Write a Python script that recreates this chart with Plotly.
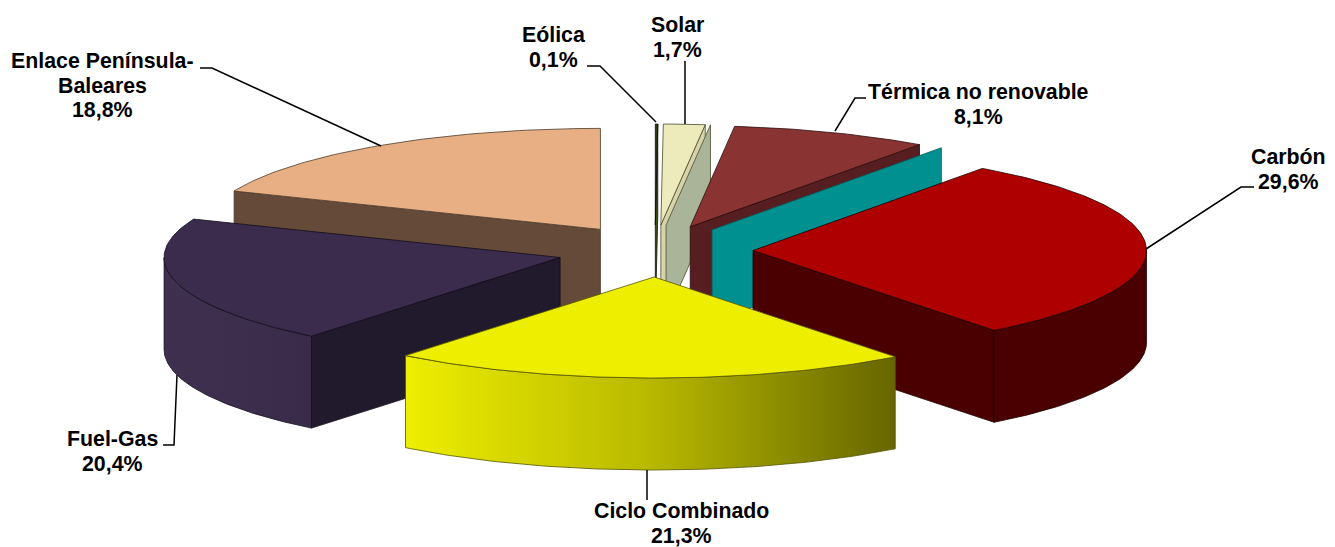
import numpy as np
import plotly.graph_objects as go

# ---- data ----
names = ["Eólica", "Solar", "", "Térmica no renovable", "", "Carbón",
         "Ciclo Combinado", "Fuel-Gas", "Enlace Península-<br>Baleares"]
values = [0.1, 1.7, 0.0, 8.1, 0.0, 29.6, 21.3, 20.4, 18.8]

# ---- styles ----
top_colors = ["#2E3A14", "#EDEBBB", "#AAB499", "#8A3333", "#009090", "#AF0000", "#EEEE00", "#3B2C4D", "#E8AF85"]
wall_colors = ["#3F4C1E", "#D6D4A8", "#AAB499", "#561E20", "#009090", "#4A0000", "#666600", "#211A2D", "#654A3A"]
edge_colors = ["#111111", "#4A4A30", "#4A4A30", "#2A0A0A", "#006060", "#200000", "#555500", "#120C1C", "#4A3A2A"]
curve_scales = {5: ["#4A0000", "#4A0000"], 6: ["#EEEE00", "#B8B800", "#666600"], 7: ["#3F3050", "#3A2B4B"]}
draw_order = [0, 1, 2, 3, 4, 8, 5, 7, 6]

# ---- pie geometry (screen px) ----
W, H = 1335, 547
CX, CY = 655, 251
RX_RIGHT, RX_LEFT, RY = 393.5, 396, 101
EX, EY = 98, 26
DEPTH = 92

fig = go.Figure()


def poly(xs, ys, color, edge, gradient=None):
    kw = dict(x=list(xs) + [xs[0]], y=list(ys) + [ys[0]], mode="lines", fill="toself",
              line=dict(color=edge, width=0.8), hoverinfo="skip", showlegend=False)
    if gradient:
        n = len(gradient) - 1
        kw["fillgradient"] = dict(type="horizontal",
                                  colorscale=[[k / n, c] for k, c in enumerate(gradient)])
    else:
        kw["fillcolor"] = color
    fig.add_trace(go.Scatter(**kw))


cum = np.cumsum([0] + values)
total = cum[-1]
for i in draw_order:
    a0, a1 = np.radians(cum[i] / total * 360), np.radians(cum[i + 1] / total * 360)
    mid = (a0 + a1) / 2
    ax, ay = CX + EX * np.sin(mid), CY - EY * np.cos(mid)

    def pt(a):
        s = np.sin(a)
        return ax + np.where(s < 0, RX_LEFT, RX_RIGHT) * s, ay - RY * np.cos(a)

    # radial walls that face the viewer
    for a, visible in ((a0, np.sin(a0) < 0), (a1, np.sin(a1) > 0)):
        if visible:
            x, y = pt(a)
            poly([ax, float(x), float(x), ax], [ay, float(y), float(y) + DEPTH, ay + DEPTH],
                 wall_colors[i], edge_colors[i])
    # outer curved wall (front half only)
    lo, hi = max(a0, np.pi / 2), min(a1, 3 * np.pi / 2)
    if hi > lo:
        t = np.linspace(lo, hi, 80)
        x, y = pt(t)
        xs = np.r_[x, x[::-1]]
        ys = np.r_[y, y[::-1] + DEPTH]
        poly(xs.tolist(), ys.tolist(), wall_colors[i], edge_colors[i], curve_scales.get(i))
    # top face
    if a1 > a0:
        t = np.linspace(a0, a1, max(3, int((a1 - a0) * 60)))
        x, y = pt(t)
        poly([ax] + x.tolist(), [ay] + y.tolist(), top_colors[i], edge_colors[i])

# ---- labels: (x centre, y of first line) ----
label_pos = {0: (553, 35), 1: (677, 25), 3: (978, 92), 5: (1288, 157), 6: (681, 511), 7: (112, 439), 8: (102, 61)}
LINE = 24.5
for i, (lx, ly) in label_pos.items():
    lines = names[i].split("<br>") + [f"{values[i]:.1f}%".replace(".", ",")]
    for k, s in enumerate(lines):
        fig.add_annotation(x=lx, y=ly + k * LINE, xref="x", yref="y", text=f"<b>{s}</b>", showarrow=False,
                           font=dict(family="Liberation Sans", size=21.33, color="#000000"),
                           xanchor="center", yanchor="middle")

leaders = [
    [(200, 68), (212, 68), (381, 146)],
    [(587, 66), (600, 66), (656, 122)],
    [(685, 61), (685, 124)],
    [(866, 98), (855, 98), (835, 131)],
    [(1254, 187), (1241, 187), (1146, 249)],
    [(163, 445), (174, 445), (177, 375)],
    [(647, 470), (647, 500)],
]
for path in leaders:
    fig.add_trace(go.Scatter(x=[p[0] for p in path], y=[p[1] for p in path], mode="lines",
                             line=dict(color="#000000", width=1.5), hoverinfo="skip", showlegend=False))

fig.update_layout(width=W, height=H, margin=dict(l=0, r=0, t=0, b=0),
                  paper_bgcolor="#FFFFFF", plot_bgcolor="#FFFFFF",
                  xaxis=dict(range=[0, W], visible=False, fixedrange=True),
                  yaxis=dict(range=[H, 0], visible=False, fixedrange=True))
fig.write_html("out.html", config={"displayModeBar": False},
               post_script="document.body.style.margin='0';document.body.style.overflow='hidden';")
